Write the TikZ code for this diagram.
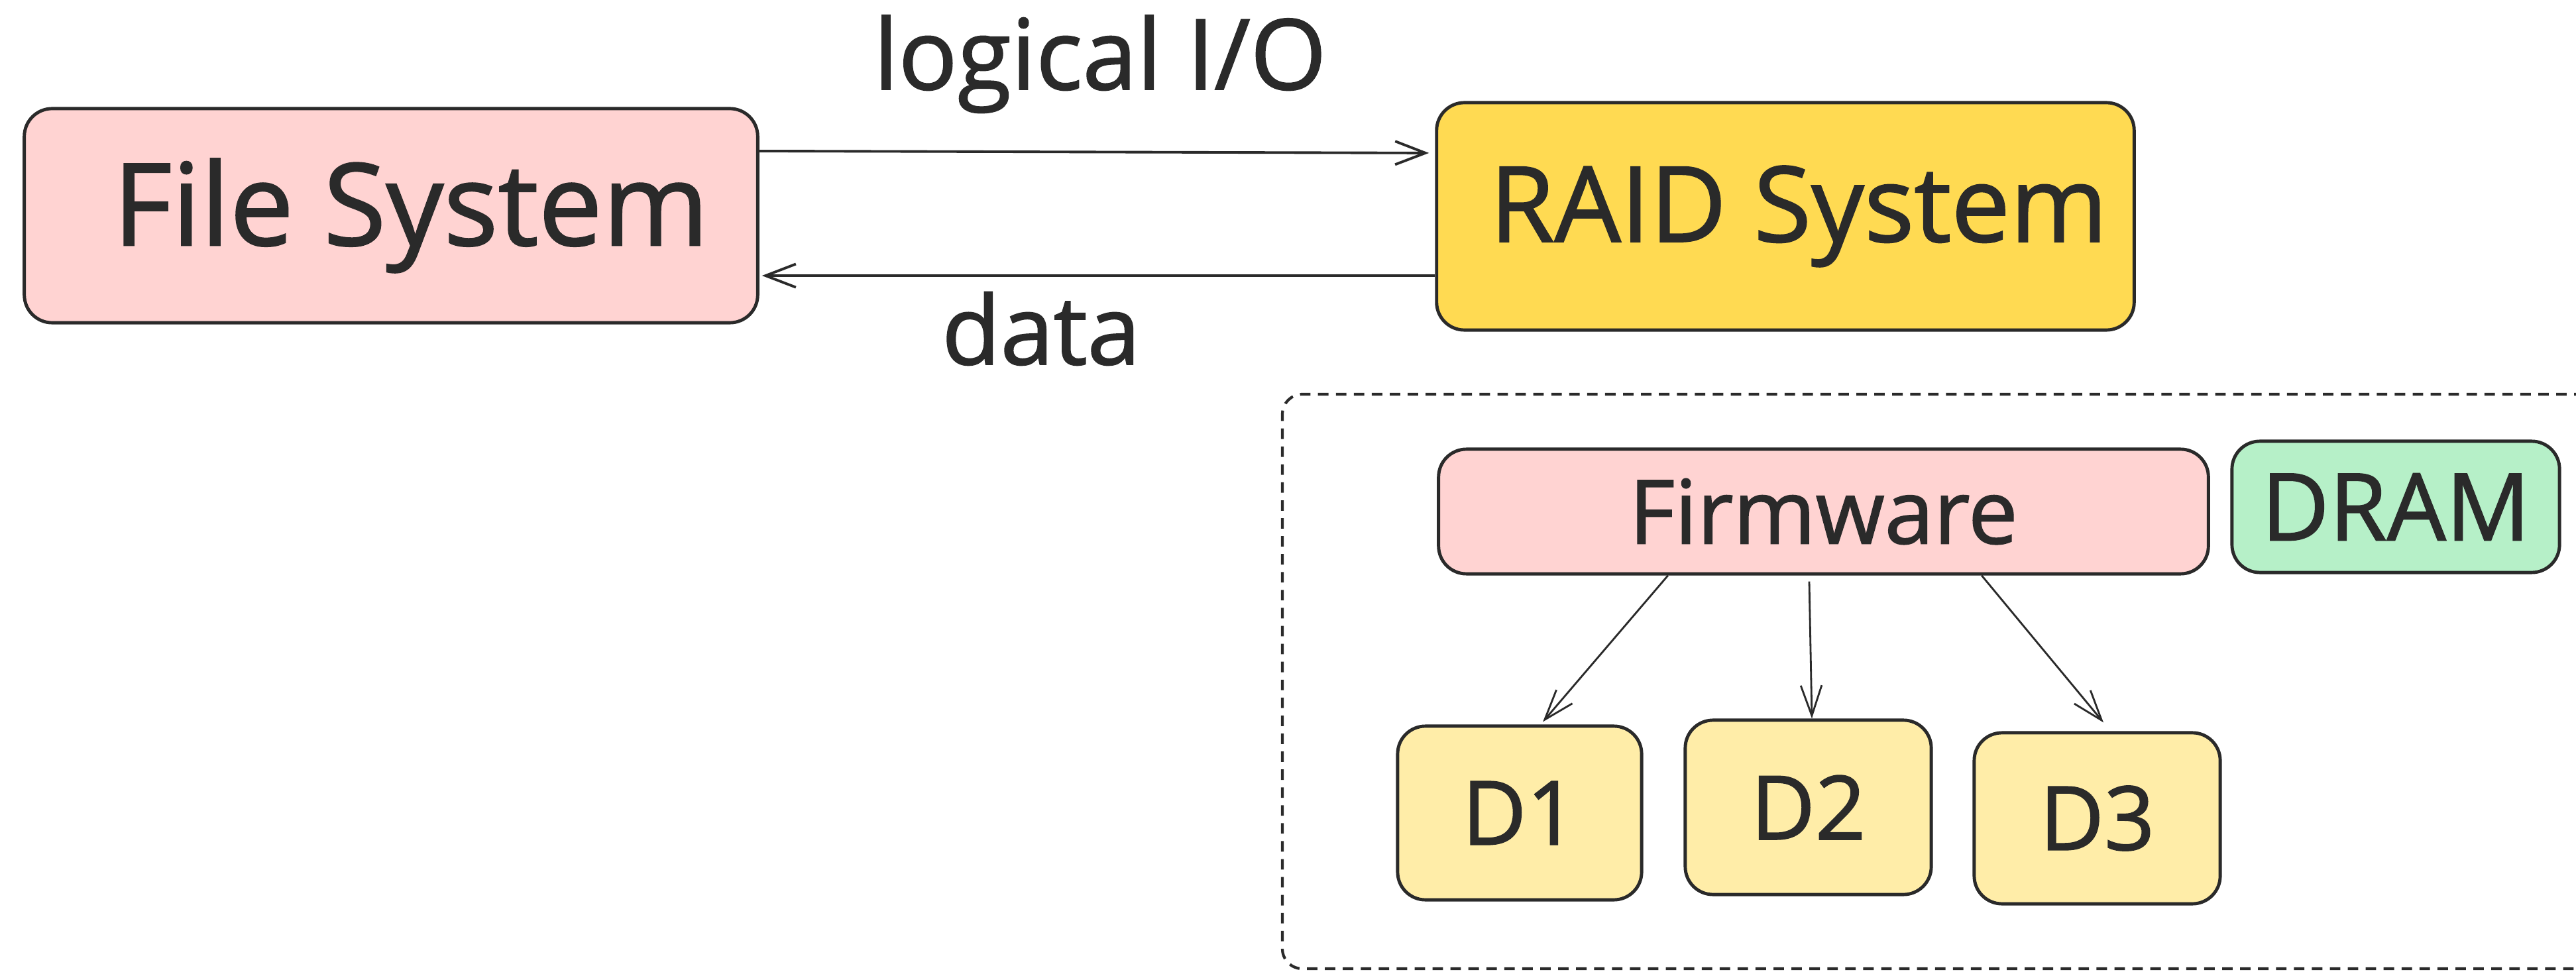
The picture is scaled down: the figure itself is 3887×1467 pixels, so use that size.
\documentclass[tikz,border=0pt]{standalone}
\usepackage{fontspec}
\setmainfont{Open Sans}[FakeBold=1.3]
\usetikzlibrary{arrows.meta}

\definecolor{ink}{HTML}{2A2A2A}
\definecolor{fspink}{HTML}{FFD3D2}
\definecolor{raidyellow}{HTML}{FFDA52}
\definecolor{diskyellow}{HTML}{FFEDA8}
\definecolor{dramgreen}{HTML}{B6F0C8}

\tikzset{
  box/.style={draw=ink, line width=1.4pt, rounded corners=0.42cm, inner sep=0pt, text=ink},
  bigtext/.style={font=\fontsize{#1}{#1}\selectfont},
  flow/.style={draw=ink, line width=1.1pt, -{Straight Barb[length=13pt,width=10pt,line width=1.1pt]}},
  fanout/.style={draw=ink, line width=0.8pt, -{Straight Barb[length=13pt,width=9pt,line width=0.8pt]}},
  frame/.style={draw=ink, line width=1.2pt, dash pattern=on 4.5pt off 3.2pt, rounded corners=0.3cm},
  label/.style={text=ink, inner sep=0pt, anchor=base}
}

\begin{document}
\begin{tikzpicture}[x=0.01cm, y=-0.01cm]
  \useasboundingbox[fill=white] (0,0) rectangle (3887,1467);

  % upper level: file system talking to the RAID system
  \node[box, fill=fspink, bigtext=49, minimum width=11.06cm, minimum height=3.23cm] (fs) at (590,325.5) {\hspace*{0.6cm}File System};
  \node[box, fill=raidyellow, bigtext=45, minimum width=10.52cm, minimum height=3.43cm] (raid) at (2694,326.5) {\hspace*{0.4cm}RAID System};

  \draw[flow, shorten >=0.09cm] ([yshift=0.975cm]fs.east) -- ([yshift=0.955cm]raid.west);
  \draw[flow, shorten >=0.04cm] ([yshift=-0.895cm]raid.west) -- ([yshift=-0.905cm]fs.east);

  \node[label, bigtext=42] (lio) at (1660,135) {logical I/O};
  \node[label, bigtext=41] (dat) at (1571,550) {data};

  % inside of the RAID system (open on the right)
  \draw[frame] (3900,595) -- (1935,595) -- (1935,1462) -- (3900,1462);

  \node[box, fill=fspink, bigtext=38, minimum width=11.61cm, minimum height=1.88cm] (fw) at (2751.5,772) {Firmware};
  \node[box, fill=dramgreen, bigtext=40, minimum width=4.94cm, minimum height=1.98cm] (dram) at (3615,765) {DRAM};

  \node[box, fill=diskyellow, bigtext=38, minimum width=3.68cm, minimum height=2.62cm] (d1) at (2293,1227) {D1};
  \node[box, fill=diskyellow, bigtext=38, minimum width=3.71cm, minimum height=2.63cm] (d2) at (2728.5,1218.5) {D2};
  \node[box, fill=diskyellow, bigtext=38, minimum width=3.71cm, minimum height=2.58cm] (d3) at (3164.5,1235) {D3};

  \draw[fanout] ([xshift=-2.345cm]fw.south) -- ([xshift=0.35cm,yshift=0.04cm]d1.north);
  \draw[fanout] ([xshift=-0.215cm,yshift=-0.09cm]fw.south) -- ([xshift=0.055cm]d2.north);
  \draw[fanout] ([xshift=2.385cm]fw.south) -- ([xshift=0.095cm,yshift=0.13cm]d3.north);
\end{tikzpicture}
\end{document}
